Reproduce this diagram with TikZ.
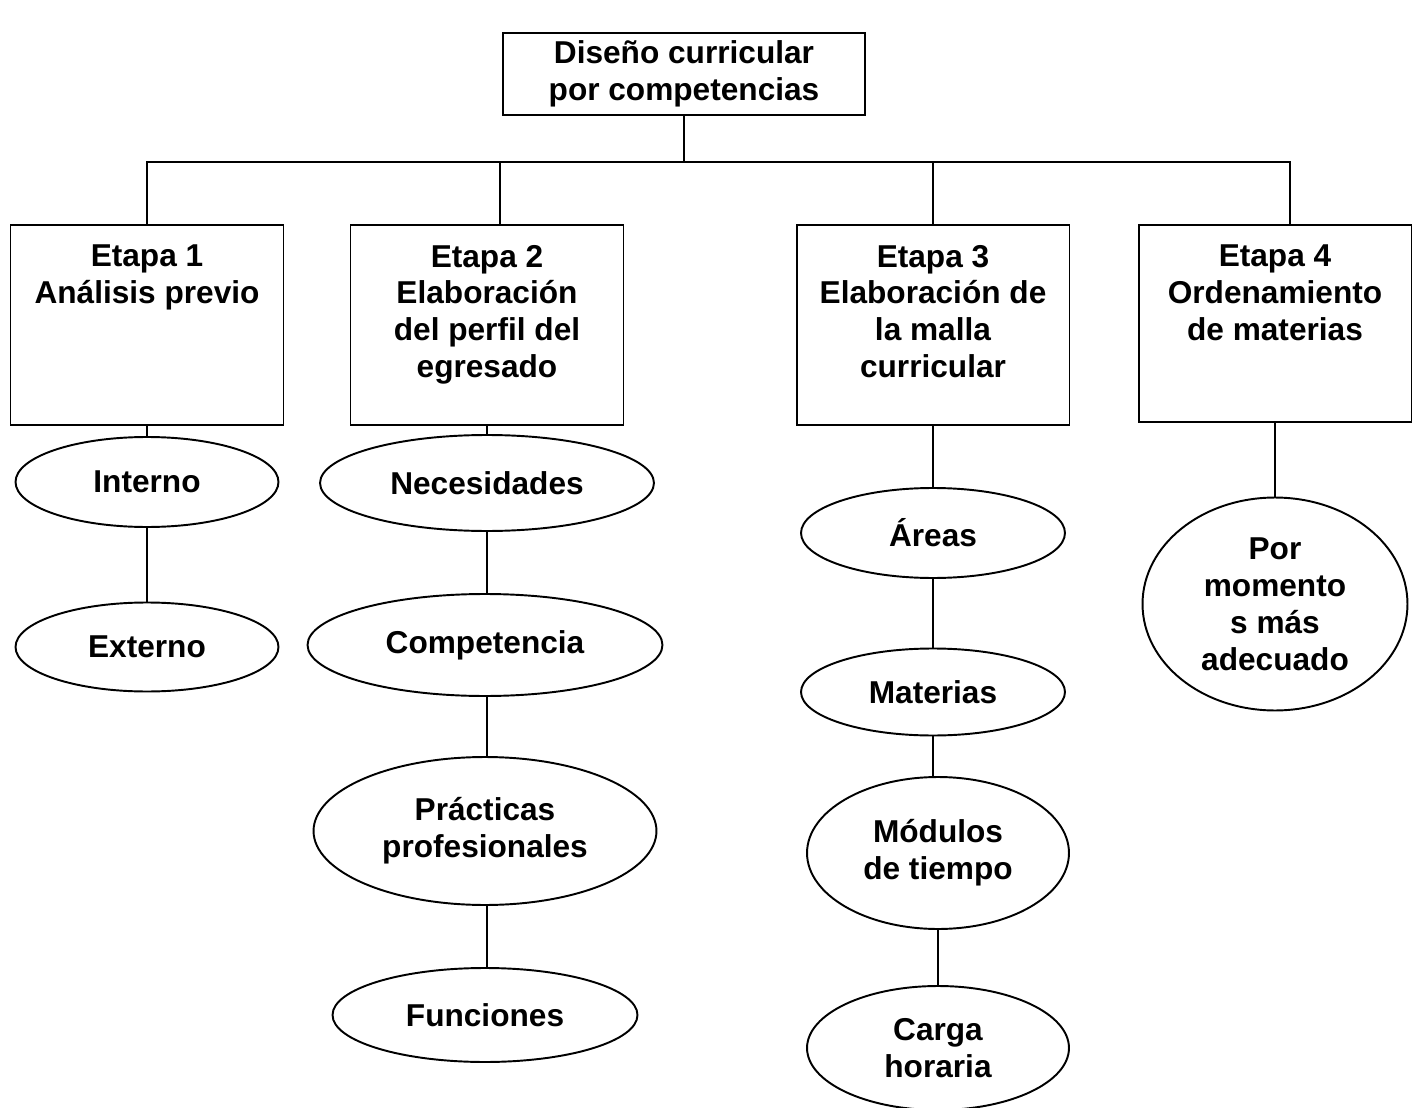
\documentclass[tikz,border=0pt]{standalone}
\usepackage{fontspec}
\setmainfont{Liberation Sans}
\usetikzlibrary{positioning,shapes.geometric}

\begin{document}
\begin{tikzpicture}[x=0.02cm, y=-0.02cm, line width=1.1pt,
  every node/.style = {font=\bfseries\fontsize{18}{21}\selectfont, align=center},
  main/.style = {draw, rectangle, minimum width=7.24cm, minimum height=1.64cm},
  etapa/.style = {draw, rectangle, minimum width=5.46cm, minimum height=4cm},
  txt/.style = {inner sep=0pt},
  oval/.style = {draw, ellipse, inner sep=0pt}]
\useasboundingbox (0,0) rectangle (1417,1108);

\node[main] (top) at (684,74) {Diseño curricular\\por competencias};
\coordinate (bus) at (684,162);

\node[etapa] (1) at (147,325) {};
\node[etapa] (2) at (487,325) {};
\node[etapa] (3) at (933,325) {};
\node[etapa, minimum height=3.94cm] (4) at (1275,323.5) {};

\node[txt, below=0.4cm of 1.north] (t1) {Etapa 1\\Análisis previo};
\node[txt, below=0.4cm of 2.north] (t2) {Etapa 2\\Elaboración\\del perfil del\\egresado};
\node[txt, below=0.4cm of 3.north] (t3) {Etapa 3\\Elaboración de\\la malla\\curricular};
\node[txt, below=0.4cm of 4.north] (t4) {Etapa 4\\Ordenamiento\\de materias};

\draw (top) -- (bus);
\draw (1.north) |- (bus);
\draw ([xshift=0.26cm]2.north) |- (bus);
\draw (3.north) |- (bus);
\draw ([xshift=0.3cm]4.north) |- (bus);

% etapa 1
\node[oval, minimum width=5.26cm, minimum height=1.8cm] (int) at (147,482) {Interno};
\node[oval, minimum width=5.26cm, minimum height=1.78cm] (ext) at (147,647) {Externo};
\draw (1.south) -- (int.north);
\draw (int.south) -- (ext.north);

% etapa 2
\node[oval, minimum width=6.68cm, minimum height=1.92cm] (nec) at (487,483) {Necesidades};
\node[oval, minimum width=7.1cm, minimum height=2.04cm] (comp) at (485,645) {Competencia};
\node[oval, minimum width=6.86cm, minimum height=2.96cm] (prac) at (485,831) {Prácticas\\profesionales};
\node[oval, minimum width=6.1cm, minimum height=1.88cm] (func) at (485,1015) {Funciones};
\draw (2.south) -- (nec.north);
\draw (nec.south) -- (nec.south |- comp.north);
\draw (nec.south |- comp.south) -- (nec.south |- prac.north);
\draw (nec.south |- prac.south) -- (nec.south |- func.north);

% etapa 3
\node[oval, minimum width=5.28cm, minimum height=1.8cm] (areas) at (933,533) {Áreas};
\node[oval, minimum width=5.28cm, minimum height=1.74cm] (mat) at (933,692) {Materias};
\node[oval, minimum width=5.24cm, minimum height=3.04cm] (mod) at (938,853) {Módulos\\de tiempo};
\node[oval, minimum width=5.24cm, minimum height=2.48cm] (carga) at (938,1048) {Carga\\horaria};
\draw (3.south) -- (areas.north);
\draw (areas.south) -- (mat.north);
\draw (mat.south) -- (mat.south |- mod.north);
\draw (mod.south) -- (carga.north);

% etapa 4
\node[oval, minimum width=5.3cm, minimum height=4.26cm] (mom) at (1275,604) {Por\\momento\\s más\\adecuado};
\draw (4.south) -- (mom.north);

\end{tikzpicture}
\end{document}
